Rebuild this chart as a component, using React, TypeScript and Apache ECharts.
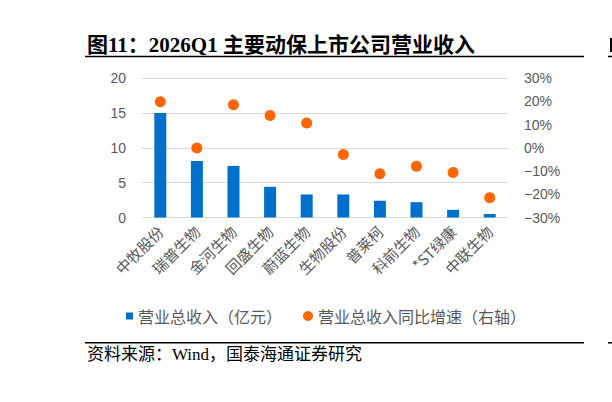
import { useEffect, useRef } from "react";
import * as echarts from "echarts";

const companies = ["中牧股份", "瑞普生物", "金河生物", "回盛生物", "蔚蓝生物", "生物股份", "普莱柯", "科前生物", "*ST绿康", "中联生物"];
const revenue = [15.0, 8.1, 7.4, 4.4, 3.3, 3.3, 2.4, 2.2, 1.1, 0.5];
const growthPct = [19.8, -0.1, 18.5, 13.9, 10.6, -2.9, -11.2, -8.0, -10.6, -21.5];

const revName = "营业总收入（亿元）";
const growthName = "营业总收入同比增速（右轴）";

const GRAY = "#595959";
const CJK = "'Noto Sans CJK SC', sans-serif";
const SERIF = "'Liberation Serif', 'Noto Sans CJK SC', serif";
const SANS = "'Liberation Sans', Arial, sans-serif";

export default function App() {
  const ref = useRef<HTMLDivElement | null>(null);

  useEffect(() => {
    if (!ref.current) return;
    const chart = echarts.init(ref.current, undefined, { renderer: "svg" });

    const option: echarts.EChartsOption = {
      animation: false,
      backgroundColor: "#ffffff",
      grid: { left: 142, right: 104, top: 78, bottom: 184.5 },
      legend: [
        {
          data: [revName],
          left: 126,
          top: 308,
          padding: 0,
          itemWidth: 7,
          itemHeight: 7,
          icon: "rect",
          textStyle: { color: GRAY, fontSize: 16, fontFamily: CJK }
        },
        {
          data: [growthName],
          left: 303,
          top: 308,
          padding: 0,
          itemWidth: 10,
          itemHeight: 10,
          icon: "circle",
          textStyle: { color: GRAY, fontSize: 16, fontFamily: CJK }
        }
      ],
      xAxis: {
        type: "category",
        data: companies,
        axisLine: { lineStyle: { color: "#d9d9d9" } },
        axisTick: { show: false },
        axisLabel: {
          rotate: 45,
          interval: 0,
          margin: 11,
          color: GRAY,
          fontSize: 15,
          fontFamily: CJK
        }
      },
      yAxis: [
        {
          type: "value",
          min: 0,
          max: 20,
          interval: 5,
          axisLine: { show: false },
          axisTick: { show: false },
          splitLine: { lineStyle: { color: "#d9d9d9" } },
          axisLabel: { color: GRAY, fontSize: 14, margin: 16, fontFamily: SANS }
        },
        {
          type: "value",
          min: -30,
          max: 30,
          interval: 10,
          axisLine: { show: false },
          axisTick: { show: false },
          splitLine: { show: false },
          axisLabel: {
            color: GRAY,
            fontSize: 14,
            margin: 16,
            fontFamily: SANS,
            formatter: (v: number) => (v < 0 ? "\u2212" + Math.abs(v) : String(v)) + "%"
          }
        }
      ],
      series: [
        {
          type: "bar",
          name: revName,
          data: revenue,
          barWidth: 12,
          itemStyle: { color: "#0070cc" },
          yAxisIndex: 0
        },
        {
          type: "scatter",
          name: growthName,
          data: growthPct,
          symbol: "circle",
          symbolSize: 11,
          itemStyle: { color: "#ff6600", opacity: 1 },
          yAxisIndex: 1
        }
      ],
      graphic: [
        {
          type: "text",
          left: 87,
          top: 34,
          style: {
            text: "图11：2026Q1 主要动保上市公司营业收入",
            fill: "#000",
            font: `bold 21px ${SERIF}`
          }
        },
        { type: "line", shape: { x1: 85, y1: 56.5, x2: 584, y2: 56.5 }, style: { stroke: "#000", lineWidth: 1.5 } },
        { type: "line", shape: { x1: 608, y1: 56.5, x2: 612, y2: 56.5 }, style: { stroke: "#000", lineWidth: 1.5 } },
        // sliver of the next figure's title at the right edge
        { type: "rect", shape: { x: 610, y: 38, width: 2, height: 14 }, style: { fill: "#000" } },
        { type: "line", shape: { x1: 85, y1: 342.8, x2: 584, y2: 342.8 }, style: { stroke: "#000", lineWidth: 1.5 } },
        { type: "line", shape: { x1: 608, y1: 342.8, x2: 612, y2: 342.8 }, style: { stroke: "#000", lineWidth: 1.5 } },
        {
          type: "text",
          left: 87,
          top: 346,
          style: {
            text: "资料来源：Wind，国泰海通证券研究",
            fill: "#000",
            font: `17px ${SERIF}`
          }
        }
      ]
    };

    chart.setOption(option);
    return () => chart.dispose();
  }, []);

  return <div ref={ref} style={{ position: "fixed", left: 0, top: 0, width: 612, height: 402 }} />;
}
